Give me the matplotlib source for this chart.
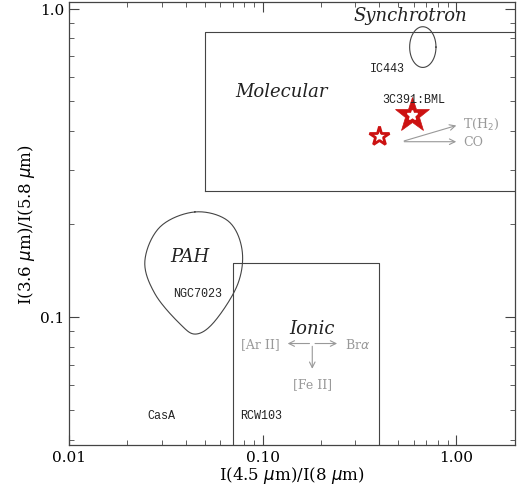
import numpy as np
import matplotlib
matplotlib.use("Agg")
import matplotlib.pyplot as plt
from matplotlib.ticker import FixedLocator, FixedFormatter

# region boxes (x0, x1, y0, y1)
molecular_box = [0.05, 3.0, 0.256, 0.84]
ionic_box = [0.07, 0.40, 0.01, 0.15]

# synchrotron ellipse (centre and half widths in log space)
sync_centre = [0.67, 0.75]
sync_half = [0.068, 0.066]

# PAH blob outline
pah_x = [0.0446, 0.066, 0.078, 0.0743, 0.0566, 0.0452, 0.0373, 0.0277, 0.0246, 0.0295]
pah_y = [0.219, 0.205, 0.166, 0.128, 0.097, 0.088, 0.095, 0.119, 0.152, 0.196]

# 3C391:BML points
star_filled = [0.59, 0.45]
star_open = [0.40, 0.385]

# labels: text, x, y
labels_it = [("Synchrotron", 0.58, 0.95), ("Molecular", 0.125, 0.54),
             ("PAH", 0.042, 0.158), ("Ionic", 0.18, 0.092)]
labels_mono = [("IC443", 0.44, 0.64), ("3C391:BML", 0.60, 0.51),
               ("NGC7023", 0.046, 0.12), ("CasA", 0.030, 0.048),
               ("RCW103", 0.098, 0.048)]


def catmull(xs, ys, n=20):
    p = np.column_stack([np.log10(xs), np.log10(ys)])
    m = len(p)
    out = []
    for i in range(m):
        p0, p1, p2, p3 = p[i - 1], p[i], p[(i + 1) % m], p[(i + 2) % m]
        t = np.linspace(0, 1, n, endpoint=False)[:, None]
        out.append(0.5 * ((2 * p1) + (-p0 + p2) * t + (2 * p0 - 5 * p1 + 4 * p2 - p3) * t**2
                          + (-p0 + 3 * p1 - 3 * p2 + p3) * t**3))
    out = np.vstack(out + [out[0][:1]])
    return 10 ** out[:, 0], 10 ** out[:, 1]


fig = plt.figure(figsize=(5.2, 5.02), dpi=100)
ax = fig.add_axes([0.133, 0.112, 0.857, 0.882])
ax.set_xscale("log")
ax.set_yscale("log")
ax.set_xlim(0.01, 2.0)
ax.set_ylim(0.0385, 1.05)

lc = "#444444"
for b in [molecular_box, ionic_box]:
    ax.plot([b[0], b[1], b[1], b[0], b[0]], [b[2], b[2], b[3], b[3], b[2]], color=lc, lw=0.8)

t = np.linspace(0, 2 * np.pi, 200)
ax.plot(10 ** (np.log10(sync_centre[0]) + sync_half[0] * np.cos(t)),
        10 ** (np.log10(sync_centre[1]) + sync_half[1] * np.sin(t)), color=lc, lw=0.8)

bx, by = catmull(pah_x, pah_y)
ax.plot(bx, by, color=lc, lw=0.8)

ax.plot(*star_filled, marker="*", ms=26, color="#cc1111", mec="#cc1111", mew=0.5)
ax.plot(*star_filled, marker="*", ms=7, color="white", mec="white")
ax.plot(*star_open, marker="*", ms=15, mfc="white", mec="#cc1111", mew=2.0)

ac = "#999999"
ap = dict(arrowstyle="->", color=ac, lw=0.8)
ax.annotate("", xy=(1.03, 0.42), xytext=(0.52, 0.37), arrowprops=ap)
ax.annotate("", xy=(1.03, 0.37), xytext=(0.52, 0.37), arrowprops=ap)
ax.text(1.08, 0.425, "T(H$_2$)", color=ac, fontsize=9, family="DejaVu Serif", va="center")
ax.text(1.08, 0.37, "CO", color=ac, fontsize=9, family="DejaVu Serif", va="center")
ax.annotate("", xy=(0.13, 0.082), xytext=(0.18, 0.082), arrowprops=ap)
ax.annotate("", xy=(0.25, 0.082), xytext=(0.18, 0.082), arrowprops=ap)
ax.annotate("", xy=(0.18, 0.0665), xytext=(0.18, 0.082), arrowprops=ap)
ax.text(0.122, 0.082, "[Ar II]", color=ac, fontsize=9, family="DejaVu Serif", ha="right", va="center")
ax.text(0.265, 0.082, "Br$\\alpha$", color=ac, fontsize=9, family="DejaVu Serif", ha="left", va="center")
ax.text(0.18, 0.061, "[Fe II]", color=ac, fontsize=9, family="DejaVu Serif", ha="center", va="center")

for s, x, y in labels_it:
    ax.text(x, y, s, fontsize=13, style="italic", family="DejaVu Serif", ha="center", va="center", color="#222222")
for s, x, y in labels_mono:
    ax.text(x, y, s, fontsize=8.5, family="Liberation Mono", ha="center", va="center", color="#222222")

ax.xaxis.set_major_locator(FixedLocator([0.01, 0.1, 1.0]))
ax.xaxis.set_major_formatter(FixedFormatter(["0.01", "0.10", "1.00"]))
ax.yaxis.set_major_locator(FixedLocator([0.1, 1.0]))
ax.yaxis.set_major_formatter(FixedFormatter(["0.1", "1.0"]))
ax.tick_params(which="both", direction="in", top=True, right=True, color=lc, labelsize=11)
ax.tick_params(which="major", length=7)
ax.tick_params(which="minor", length=3.5)
for lab in ax.get_xticklabels() + ax.get_yticklabels():
    lab.set_family("DejaVu Serif")
for sp in ax.spines.values():
    sp.set_color(lc)
    sp.set_linewidth(0.9)
ax.set_xlabel("I(4.5 $\\mu$m)/I(8 $\\mu$m)", family="DejaVu Serif", fontsize=12, labelpad=0)
ax.set_ylabel("I(3.6 $\\mu$m)/I(5.8 $\\mu$m)", family="DejaVu Serif", fontsize=12, labelpad=2)

fig.savefig("out.png", dpi=100)
